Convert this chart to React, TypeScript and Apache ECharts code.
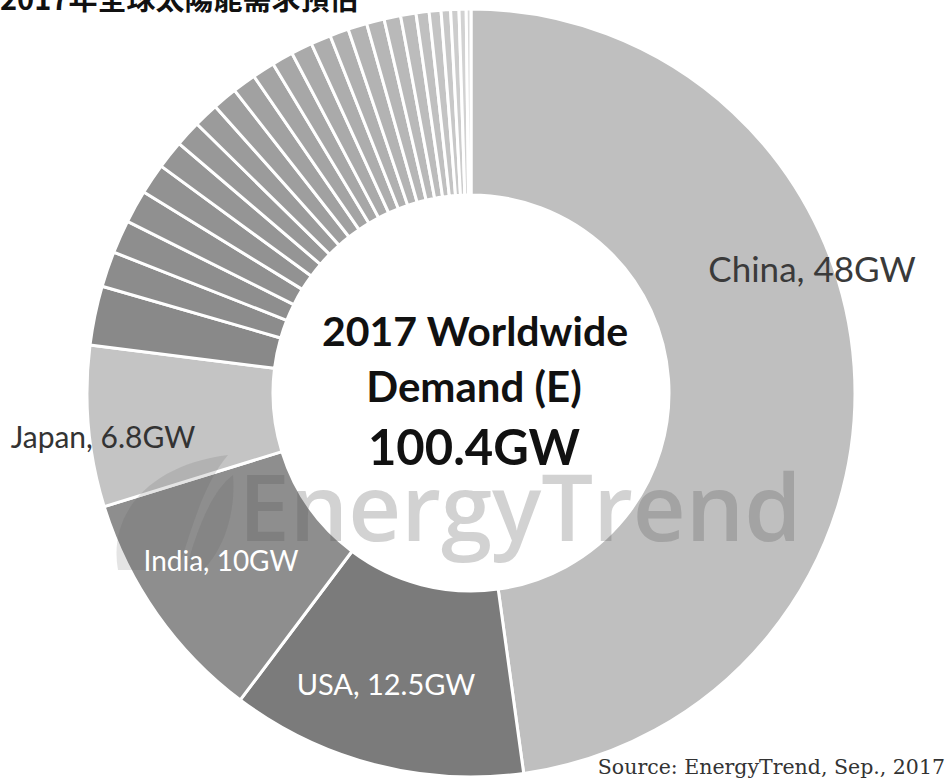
import React, { useEffect, useRef } from "react";
import * as echarts from "echarts";

const mainNames = ["China", "USA", "India", "Japan"];
const mainValues = [48, 12.5, 10, 6.8];
const mainColors = ["#bfbfbf", "#7b7b7b", "#8e8e8e", "#c4c4c4"];

const otherValues = [2.5, 1.5, 1.4, 1.4, 1.3, 1.2, 1.1, 1.05, 1.05, 1.0, 0.95, 0.9, 0.9, 0.85, 0.8, 0.8, 0.75, 0.7, 0.65, 0.55, 0.5, 0.4, 0.35, 0.3, 0.2];
const otherNames = otherValues.map((_, i) => `Other ${i + 1}`);
const otherGrays = [0x89, 0x8c, 0x8e, 0x90, 0x92, 0x95, 0x98, 0x9b, 0x9e, 0xa1, 0xa4, 0xa7, 0xaa, 0xad, 0xb0, 0xb3, 0xb6, 0xb9, 0xbc, 0xc0, 0xc4, 0xc8, 0xcd, 0xd2, 0xd8];

const labelTexts = ["China, 48GW", "USA, 12.5GW", "India, 10GW", "Japan, 6.8GW"];
const centerLines = ["2017 Worldwide", "Demand (E)", "100.4GW"];
const titleText = "2017年全球太陽能需求預估";
const sourceText = "Source: EnergyTrend, Sep., 2017";
const watermarkText = "EnergyTrend";

const leafPath = "M 10 115 C 0 60 40 10 120 0 C 95 30 85 70 70 115 Z M 78 115 C 90 70 105 35 125 20 C 128 60 115 95 95 115 Z";

export default function App() {
  const ref = useRef<HTMLDivElement>(null);
  useEffect(() => {
    document.body.style.margin = "0";
    echarts.graphic.registerShape("leaf", echarts.graphic.extendPath(leafPath, {}));
    const chart = echarts.init(ref.current!, null, { renderer: "svg" });
    const hex = (g: number) => {
      const h = g.toString(16).padStart(2, "0");
      return `#${h}${h}${h}`;
    };
    const data = [
      ...mainValues.map((v, i) => ({ name: mainNames[i], value: v, itemStyle: { color: mainColors[i] } })),
      ...otherValues.map((v, i) => ({ name: otherNames[i], value: v, itemStyle: { color: hex(otherGrays[i]) } })),
    ];
    const sans = "Lato, 'Open Sans', sans-serif";
    const Z = 100;
    chart.setOption({
      animation: false,
      backgroundColor: "#ffffff",
      series: [
        {
          type: "pie",
          center: [471, 393],
          radius: [198, 384],
          startAngle: 90,
          clockwise: true,
          avoidLabelOverlap: false,
          label: { show: false },
          labelLine: { show: false },
          itemStyle: { borderColor: "#ffffff", borderWidth: 3 },
          emphasis: { disabled: true },
          data,
        },
      ],
      graphic: [
        {
          type: "text",
          left: 0,
          top: -18,
          z: Z,
          style: { text: titleText, font: `bold 29px 'Noto Sans CJK TC', sans-serif`, fill: "#111" },
        },
        {
          type: "leaf",
          x: 108, y: 455,
          z: Z,
          style: { fill: "rgba(90,90,90,0.16)" },
        },
        {
          type: "text",
          x: 520, y: 505,
          z: Z,
          style: { text: watermarkText, font: `600 92px 'Open Sans', sans-serif`, fill: "rgba(90,90,90,0.27)", align: "center", verticalAlign: "middle" },
        },
        {
          type: "text",
          x: 812, y: 268,
          z: Z + 1,
          style: { text: labelTexts[0], font: `35px ${sans}`, fill: "#3a3a3a", align: "center", verticalAlign: "middle" },
        },
        {
          type: "text",
          x: 386, y: 683,
          z: Z + 1,
          style: { text: labelTexts[1], font: `29px ${sans}`, fill: "#ffffff", align: "center", verticalAlign: "middle" },
        },
        {
          type: "text",
          x: 221, y: 560,
          z: Z + 1,
          style: { text: labelTexts[2], font: `28px ${sans}`, fill: "#ffffff", align: "center", verticalAlign: "middle" },
        },
        {
          type: "text",
          x: 103, y: 436,
          z: Z + 1,
          style: { text: labelTexts[3], font: `30px ${sans}`, fill: "#333333", align: "center", verticalAlign: "middle" },
        },
        {
          type: "text",
          x: 475, y: 330,
          z: Z + 1,
          style: { text: centerLines[0], font: `bold 41px ${sans}`, fill: "#111", align: "center", verticalAlign: "middle" },
        },
        {
          type: "text",
          x: 474, y: 386,
          z: Z + 1,
          style: { text: centerLines[1], font: `bold 42px ${sans}`, fill: "#111", align: "center", verticalAlign: "middle" },
        },
        {
          type: "text",
          x: 474, y: 446,
          z: Z + 1,
          style: { text: centerLines[2], font: `bold 49px ${sans}`, fill: "#111", align: "center", verticalAlign: "middle" },
        },
        {
          type: "text",
          right: 5, top: 756,
          z: Z + 1,
          style: { text: sourceText, font: `20.5px 'DejaVu Serif', 'Liberation Serif', serif`, fill: "#333" },
        },
      ],
    });
    return () => chart.dispose();
  }, []);
  return <div ref={ref} style={{ width: 950, height: 784 }} />;
}
